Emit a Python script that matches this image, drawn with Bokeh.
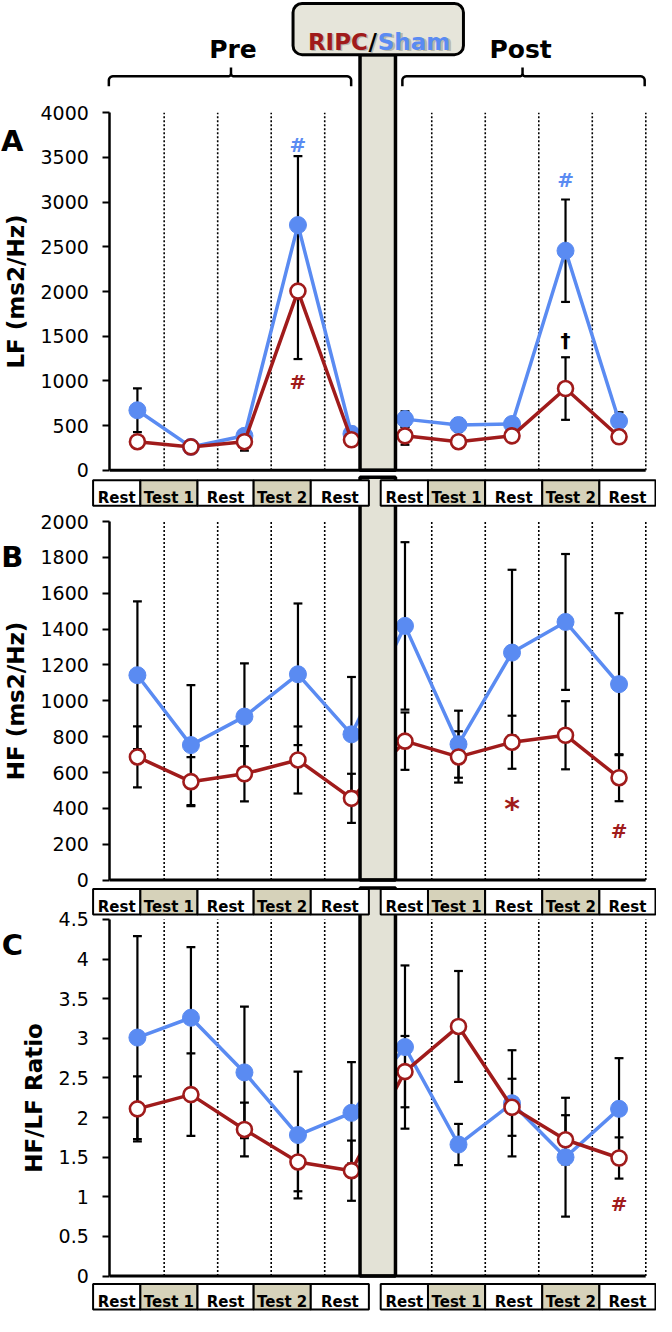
import numpy as np
from bokeh.plotting import figure
from bokeh.models import Range1d, LinearAxis, FixedTicker, CustomJSTickFormatter
from bokeh.core.properties import value
from bokeh.embed import file_html
from bokeh.resources import INLINE

# ---------------- data ----------------
stages = ["Rest", "Test 1", "Rest", "Test 2", "Rest"]
periods = ["Pre", "Post"]
positions = list(range(10))          # 5 stages Pre + 5 stages Post

lf_sham = [672, 262, 386, 2744, 408, 573, 507, 518, 2457, 551]
lf_sham_err = [245, 40, 60, 771, 77, 88, 77, 60, 573, 99]
lf_ripc = [320, 262, 320, 2005, 342, 386, 320, 386, 915, 375]
lf_ripc_err = [60, 40, 100, 760, 40, 100, 50, 60, 350, 50]

hf_sham = [1143, 753, 912, 1148, 813, 1418, 758, 1269, 1440, 1093]
hf_sham_err = [412, 335, 297, 395, 320, 467, 187, 462, 379, 396]
hf_ripc = [687, 549, 593, 670, 456, 775, 687, 769, 808, 571]
hf_ripc_err = [170, 137, 154, 187, 137, 160, 143, 148, 190, 131]

ratio_sham = [3.01, 3.26, 2.57, 1.78, 2.06, 2.89, 1.66, 2.18, 1.50, 2.11]
ratio_sham_err = [1.28, 0.89, 0.83, 0.80, 0.64, 1.03, 0.26, 0.67, 0.75, 0.64]
ratio_ripc = [2.11, 2.29, 1.85, 1.44, 1.33, 2.58, 3.15, 2.13, 1.72, 1.49]
ratio_ripc_err = [0.41, 0.52, 0.34, 0.37, 0.38, 0.45, 0.70, 0.36, 0.31, 0.26]

lf_ticks = [0, 500, 1000, 1500, 2000, 2500, 3000, 3500, 4000]
hf_ticks = [0, 200, 400, 600, 800, 1000, 1200, 1400, 1600, 1800, 2000]
ratio_ticks = [0, 0.5, 1, 1.5, 2, 2.5, 3, 3.5, 4, 4.5]

grid_x = [0.5, 1.5, 2.5, 3.5, 5.5, 6.5, 7.5, 8.5, 9.5]

# significance symbols
mark_panel = ["A", "A", "A", "A", "B", "B", "C"]
mark_index = [3, 3, 8, 8, 7, 9, 9]
mark_y = [3636, 992, 3251, 1455, 401, 275, 0.905]
mark_text = ["#", "#", "#", "\u2020", "*", "#", "#"]
mark_group = ["Sham", "RIPC", "Sham", "none", "RIPC", "RIPC", "RIPC"]

# ---------------- styling / layout (reference pixel space) ----------------
BLUE = "#5A8BF2"
RED = "#A01B1B"
BEIGE = "#D6D2BA"
PILLAR = "#E3E2D6"
FONT = "DejaVu Sans"

REF_X0, REF_X1 = 3, 669
REF_H = 1332
X_FIRST, X_STEP = 142, 54.33
AXIS_X = 114
PLOT_RIGHT = 658
PIL_L, PIL_R = 368, 404

panels = [
    dict(name="A", title="LF (ms2/Hz)", zero=477, top=114, ticks=lf_ticks,
         sham=lf_sham, sham_err=lf_sham_err, ripc=lf_ripc, ripc_err=lf_ripc_err,
         letter_y=143, pillar=(55, 477), boxes=487),
    dict(name="B", title="HF (ms2/Hz)", zero=893, top=529, ticks=hf_ticks,
         sham=hf_sham, sham_err=hf_sham_err, ripc=hf_ripc, ripc_err=hf_ripc_err,
         letter_y=565, pillar=(484, 893), boxes=902),
    dict(name="C", title="HF/LF Ratio", zero=1295, top=933, ticks=ratio_ticks,
         sham=ratio_sham, sham_err=ratio_sham_err, ripc=ratio_ripc, ripc_err=ratio_ripc_err,
         letter_y=959, pillar=(901, 1295), boxes=1303),
]

p = figure(width=656, height=1312,
           x_range=Range1d(REF_X0, REF_X1), y_range=Range1d(REF_H, 0),
           x_axis_type=None, y_axis_type=None, toolbar_location=None,
           output_backend="svg", min_border=0, outline_line_color=None)
p.extra_x_ranges = {"pos": Range1d((REF_X0 - X_FIRST) / X_STEP, (REF_X1 - X_FIRST) / X_STEP)}

extra = {}
for pn in panels:
    vmax = pn["ticks"][-1]
    k = (pn["zero"] - pn["top"]) / vmax
    extra[pn["name"]] = Range1d(start=(pn["zero"] - REF_H) / k, end=pn["zero"] / k)
p.extra_y_ranges = extra

xs = np.array(positions, dtype=float)
cap = 4.5 / X_STEP

# dotted separators
for pn in panels:
    n = pn["name"]
    p.segment(x0=grid_x, x1=grid_x, y0=[0] * len(grid_x), y1=[pn["ticks"][-1]] * len(grid_x),
              x_range_name="pos", y_range_name=n, line_color="black",
              line_width=1.6, line_dash="2 2")

# series
for pn in panels:
    n = pn["name"]
    for key in ("sham", "ripc"):
        v = np.array(pn[key], dtype=float)
        e = np.array(pn[key + "_err"], dtype=float)
        lo, hi = v - e, v + e
        p.segment(x0=xs, x1=xs, y0=lo, y1=hi, x_range_name="pos", y_range_name=n,
                  line_color="black", line_width=2.2)
        p.segment(x0=xs - cap, x1=xs + cap, y0=hi, y1=hi, x_range_name="pos",
                  y_range_name=n, line_color="black", line_width=2.2)
        p.segment(x0=xs - cap, x1=xs + cap, y0=lo, y1=lo, x_range_name="pos",
                  y_range_name=n, line_color="black", line_width=2.2)
    p.line(xs, pn["sham"], x_range_name="pos", y_range_name=n, line_color=BLUE, line_width=3.5)
    p.scatter(xs, pn["sham"], x_range_name="pos", y_range_name=n, marker="circle", size=17,
              fill_color=BLUE, line_color=BLUE)
    p.line(xs, pn["ripc"], x_range_name="pos", y_range_name=n, line_color=RED, line_width=3.5)
    p.scatter(xs, pn["ripc"], x_range_name="pos", y_range_name=n, marker="circle", size=15,
              fill_color="white", line_color=RED, line_width=2.6)

# pillar
for pn in panels:
    t, b = pn["pillar"]
    p.quad(left=PIL_L, right=PIL_R, top=t, bottom=b, fill_color=PILLAR,
           line_color="black", line_width=3.5)

# x axis lines
for pn in panels:
    p.segment(x0=AXIS_X, x1=PLOT_RIGHT, y0=0, y1=0, y_range_name=pn["name"],
              line_color="black", line_width=3)

# stage boxes
pre_edges = [97, 145, 203, 260, 318, 377]
post_edges = [389, 437, 495, 553, 611, 668]
for pn in panels:
    top = pn["boxes"]
    for edges in (pre_edges, post_edges):
        lefts, rights = edges[:-1], edges[1:]
        fills = [BEIGE if s.startswith("Test") else "white" for s in stages]
        p.quad(left=lefts, right=rights, top=[top] * 5, bottom=[top + 26] * 5,
               fill_color=fills, line_color="black", line_width=2)
        p.text(x=[(a + b) / 2 for a, b in zip(lefts, rights)], y=[top + 18.5] * 5, text=stages,
               text_font=value(FONT), text_font_style="bold", text_font_size="15px",
               text_align="center", text_baseline="alphabetic", text_color="black")

# y axes
for pn in panels:
    ax = LinearAxis(y_range_name=pn["name"], fixed_location=AXIS_X,
                    bounds=(0, pn["ticks"][-1]), ticker=FixedTicker(ticks=pn["ticks"]),
                    formatter=CustomJSTickFormatter(code="return String(tick)"),
                    axis_label=pn["title"], axis_label_text_font=FONT,
                    axis_label_text_font_style="bold", axis_label_text_font_size="23px",
                    axis_label_standoff=8, axis_label_text_color="black",
                    major_label_text_font=FONT, major_label_text_font_size="19px",
                    major_label_text_color="black", major_label_standoff=14,
                    major_tick_out=7, major_tick_in=0, minor_tick_out=0, minor_tick_in=0,
                    axis_line_width=2.5, axis_line_color="black",
                    major_tick_line_width=2, major_tick_line_color="black")
    p.add_layout(ax, "left")
    p.text(x=[15], y=[pn["letter_y"]], text=[pn["name"]], text_font=value(FONT),
           text_font_style="bold", text_font_size="29px", text_align="center",
           text_baseline="alphabetic", text_color="black")

# significance symbols
for pan, idx, yv, sym, grp in zip(mark_panel, mark_index, mark_y, mark_text, mark_group):
    col = BLUE if grp == "Sham" else (RED if grp == "RIPC" else "black")
    size = "30px" if sym == "*" else "20px"
    p.text(x=[positions[idx]], y=[yv], text=[sym], x_range_name="pos", y_range_name=pan,
           text_font=value(FONT), text_font_style="bold", text_font_size=size,
           text_align="center", text_baseline="alphabetic", text_color=col)

# header: braces, Pre/Post, RIPC/Sham box
def brace(x0, x1, xm, y_line=77.0, y_end=87.0, y_tip=68.0, r=4.0, rm=3.0):
    pts = [(x0, y_end)]
    t = np.linspace(np.pi, 1.5 * np.pi, 8)
    pts += list(zip(x0 + r + r * np.cos(t), y_line + r + r * np.sin(t)))
    t = np.linspace(0.5 * np.pi, 0.0, 6)
    pts += list(zip(xm - rm + rm * np.cos(t), y_line - rm + rm * np.sin(t)))
    pts += [(xm, y_tip), (xm, y_line - rm)]
    t = np.linspace(np.pi, 0.5 * np.pi, 6)
    pts += list(zip(xm + rm + rm * np.cos(t), y_line - rm + rm * np.sin(t)))
    t = np.linspace(1.5 * np.pi, 2.0 * np.pi, 8)
    pts += list(zip(x1 - r + r * np.cos(t), y_line + r + r * np.sin(t)))
    pts += [(x1, y_end)]
    return [q[0] for q in pts], [q[1] for q in pts]

for (a, b, m) in [(113, 359, 237), (411, 657, 533)]:
    bx, by = brace(a, b, m)
    p.line(bx, by, line_color="black", line_width=2.5)

p.text(x=[239, 531], y=[50, 50], text=periods, text_font=value(FONT), text_font_style="bold",
       text_font_size="25px", text_align="center", text_baseline="alphabetic",
       text_color="black")

p.quad(left=300, right=473, top=3, bottom=55, fill_color="#E6E5DA", line_color="black",
       line_width=3, border_radius=9)
p.text(x=[377.5, 382.5, 388.5], y=[43.5, 43.5, 43.5], text=["RIPC", "/", "Sham"],
       text_font=value(FONT), text_font_style="bold", text_font_size="23px",
       text_align=["right", "center", "left"], text_baseline="alphabetic",
       text_color="#9A9A90", text_alpha=0.6)
p.text(x=[376, 381, 386], y=[42, 42, 42], text=["RIPC", "/", "Sham"],
       text_font=value(FONT), text_font_style="bold", text_font_size="23px",
       text_align=["right", "center", "left"], text_baseline="alphabetic",
       text_color=[RED, "black", BLUE])

open("out.html", "w").write(file_html(p, INLINE))
